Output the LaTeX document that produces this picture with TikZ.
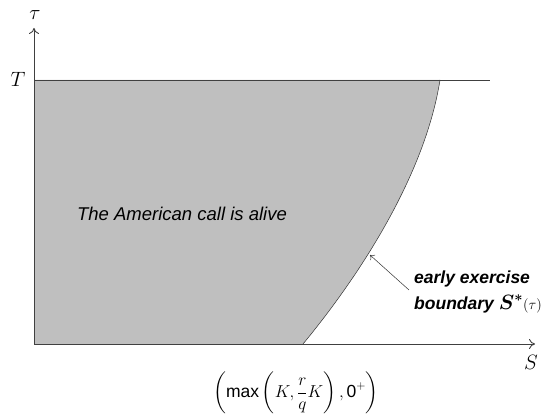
\documentclass[tikz,border=0pt]{standalone}
\usepackage{amsmath,amssymb}
\usepackage{fontspec}
\newfontfamily\arialfont{Liberation Sans}
\usepackage{tikz}
\usetikzlibrary{arrows.meta,positioning}

\begin{document}
\begin{tikzpicture}[
  x=1pt,y=1pt,
  axis/.style={-{To[length=6pt,width=10pt]},draw=black!75,line width=0.9pt},
  lbl/.style={font=\fontsize{20}{22}\selectfont\itshape},
  note/.style={font=\arialfont\fontsize{17.5}{23}\selectfont\bfseries\itshape,align=left,inner sep=0pt}
]
\useasboundingbox (0,0) rectangle (558,415);
% points on the picture
\coordinate (O) at (34,71);
\coordinate (Ttop) at (34,335);
\coordinate (Tend) at (490,335);
\coordinate (ytip) at (34,387);
\coordinate (xtip) at (535,71);
\coordinate (low) at (303,71);
\coordinate (high) at (440,335);
\coordinate (hit) at (370,160);
\coordinate (tail) at (409,125);
% alive region
\fill[black!25] (O) -- (Ttop) -- (high) .. controls (425,240) and (360,140) .. (low) -- cycle;
\draw[black!80,line width=0.5pt] (low) .. controls (360,140) and (425,240) .. (high);
\draw[black!75,line width=0.9pt] (Ttop) -- (Tend);
\draw[axis] (O) -- (ytip);
\draw[axis] (O) -- (xtip);
% labels
\node[lbl] (tau) at (35,400) {$\tau$};
\node[lbl] (Tlbl) at (18,336) {$T$};
\node[lbl] (Slbl) at (531,53) {$S$};
\node[font=\arialfont\fontsize{18.5}{20}\selectfont\itshape] (alive) at (182,201) {The American call is alive};
\node[note,anchor=north west] (bound) at (414,144) {early exercise\\[3pt]boundary {\fontsize{22}{22}\selectfont$\boldsymbol{S}^{\boldsymbol{*}}$}{\normalfont\mdseries\upshape\fontsize{14}{14}\selectfont$(\tau)$}};
\draw[-{To[length=4pt,width=7pt]},black!80,line width=0.5pt] (tail) -- (hit);
\node (xstar) at (296,22) {\fontsize{17.5}{20}\selectfont$\left(\text{\arialfont max}\left(K,\dfrac{r}{q}K\right),\text{\arialfont 0}^{+}\right)$};
\end{tikzpicture}
\end{document}
